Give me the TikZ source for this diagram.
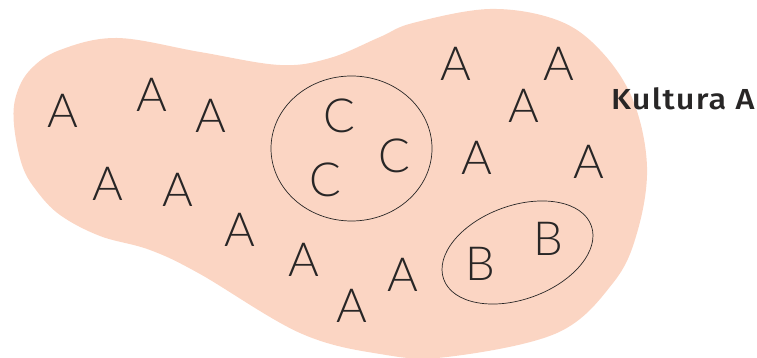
\documentclass[tikz,border=0pt]{standalone}
\usepackage{fontspec}
\usetikzlibrary{shapes.geometric}
\newfontfamily\lightfont{Lato Light}
\newfontfamily\labelfont{Fira Sans Medium}[LetterSpace=4,FakeStretch=1.12]
\definecolor{blobfill}{RGB}{251,213,195}
\definecolor{ink}{RGB}{40,38,38}
\begin{document}
\begin{tikzpicture}[x=1pt,y=1pt,
  letter/.style={inner sep=0pt,text=ink,font=\lightfont\fontsize{47}{47}\selectfont},
  group/.style={draw=ink,line width=0.7pt}]
\useasboundingbox (0,0) rectangle (757,358);
% the culture region
\fill[blobfill] plot[smooth cycle,tension=0.6] coordinates {
  (14,233) (22,193) (36,168) (60,143) (100,122) (150,108) (200,84) (300,25)
  (380,4) (447,1) (557,25) (613,75) (637,125) (647,191) (633,258)
  (600,308) (557,338) (490,349) (413,335) (380,321) (330,300) (280,293)
  (200,306) (117,320) (60,308) (30,288) (16,262)};
% subgroups
\node[group,ellipse,minimum width=161pt,minimum height=145pt,inner sep=0pt] (gc) at (351.5,209.5) {};
\node[group,ellipse,minimum width=157pt,minimum height=93.6pt,inner sep=0pt,rotate=20] (gb) at (517.5,105.5) {};
% members
\node[letter] (a1) at (63,247) {A};
\node[letter] (a2) at (152,263) {A};
\node[letter] (a3) at (211,242) {A};
\node[letter] (a4) at (108,174) {A};
\node[letter] (a5) at (178,168) {A};
\node[letter] (a6) at (240,128) {A};
\node[letter] (a7) at (304,98) {A};
\node[letter] (a8) at (352,52) {A};
\node[letter] (a9) at (456,294) {A};
\node[letter] (a10) at (559,294) {A};
\node[letter] (a11) at (524,252) {A};
\node[letter] (a12) at (477,200) {A};
\node[letter] (a13) at (589,196) {A};
\node[letter] (a14) at (403,83) {A};
\node[letter] (c1) at (339,242) {C};
\node[letter] (c2) at (325,178) {C};
\node[letter] (c3) at (394,202) {C};
\node[letter] (b1) at (480,94) {B};
\node[letter] (b2) at (548,119) {B};
% label
\node[inner sep=0pt,text=ink,anchor=base west,font=\labelfont\fontsize{29}{29}\selectfont] (lab) at (611,248.7) {Kultura A};
\end{tikzpicture}
\end{document}
